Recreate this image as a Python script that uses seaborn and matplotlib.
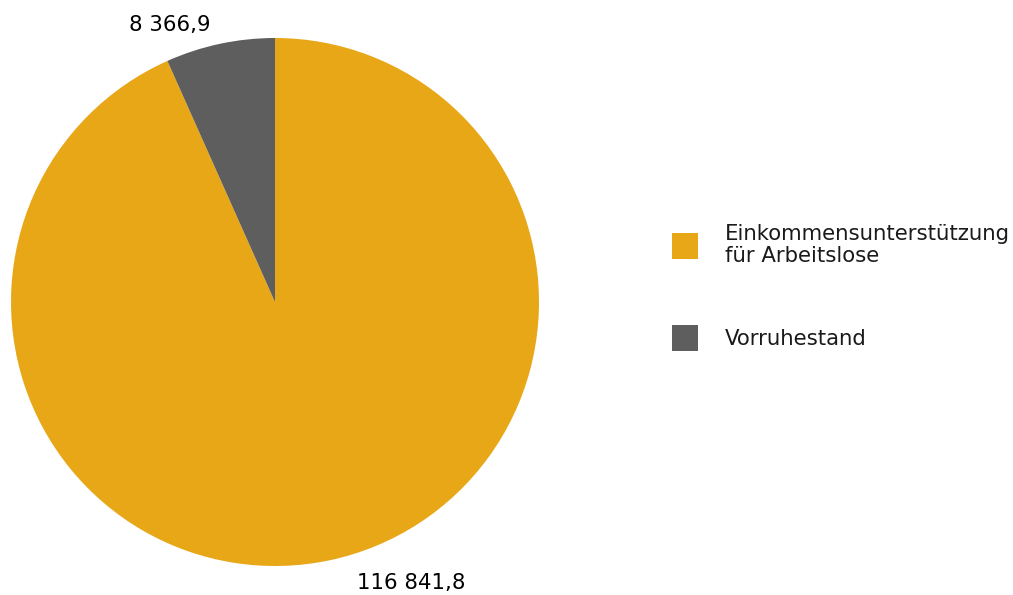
import matplotlib
matplotlib.use("Agg")
import matplotlib.pyplot as plt
import seaborn as sns
from matplotlib.patches import Patch

categories = ["Einkommensunterstützung\nfür Arbeitslose", "Vorruhestand"]
values = [116841.8, 8366.9]
value_labels = ["116 841,8", "8 366,9"]
colors = ["#E8A717", "#5E5E5E"]

sns.set_theme(style="white")
plt.rcParams["font.family"] = ["DejaVu Sans"]

W, H = 1013, 595
fig = plt.figure(figsize=(W / 100, H / 100), dpi=100)
fig.patch.set_facecolor("white")

cx, cy, r = 275, 302, 264
ax = fig.add_axes([(cx - r) / W, (H - cy - r) / H, 2 * r / W, 2 * r / H])
wedges, _ = ax.pie(values, colors=colors, startangle=90, counterclock=False,
                   radius=1.0, wedgeprops=dict(linewidth=0))
ax.set_xlim(-1, 1)
ax.set_ylim(-1, 1)
ax.set_aspect("equal")
ax.axis("off")

fs = 15.3
label_pos = [(411, 583), (170, 25)]
for (px, py), txt in zip(label_pos, value_labels):
    ax.text((px - cx) / r, (cy - py) / r, txt, ha="center", va="center",
            fontsize=fs, color="#000000", clip_on=False)

handles = [Patch(facecolor=c, edgecolor="none") for c in colors]
leg = fig.legend(handles, categories, loc="upper left",
                 bbox_to_anchor=(672 / W, 1 - 224 / H), frameon=False,
                 fontsize=fs, handlelength=1.22, handleheight=1.54,
                 handletextpad=1.27, labelspacing=2.75, borderaxespad=0,
                 borderpad=0)
for t in leg.get_texts():
    t.set_linespacing(1.15)
    t.set_color("#1a1a1a")

fig.savefig("out.png", dpi=100, facecolor="white")
